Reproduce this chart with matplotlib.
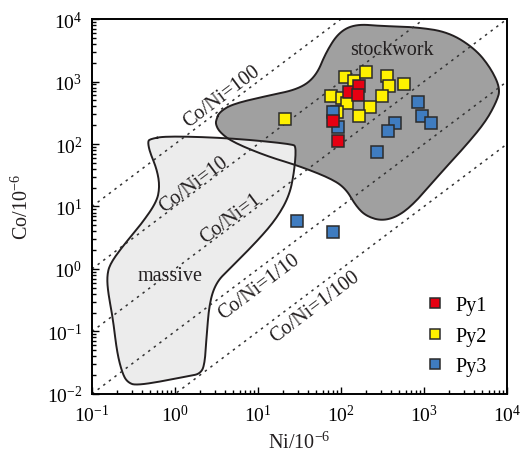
import numpy as np
import matplotlib
matplotlib.use("Agg")
import matplotlib.pyplot as plt
from matplotlib.ticker import FixedLocator, NullFormatter, LogFormatterSciNotation

plt.rcParams['font.family'] = ['Liberation Serif', 'DejaVu Serif']
plt.rcParams['mathtext.fontset'] = 'custom'
plt.rcParams['mathtext.rm'] = 'Liberation Serif'
plt.rcParams['mathtext.default'] = 'regular'

# sample data (ppm)
py1_ni = [125, 164, 161, 81, 93]
py1_co = [671, 857, 608, 236, 113]

py2_ni = [21.3, 112, 143, 198, 360, 377, 570, 75, 104, 119, 313, 223, 164, 90]
py2_co = [251, 1167, 1030, 1403, 1239, 857, 912, 593, 538, 453, 593, 395, 284, 329]

py3_ni = [79, 92, 847, 947, 1213, 453, 370, 273, 29.4, 79]
py3_co = [321, 185, 465, 284, 217, 217, 160, 75, 5.8, 3.87]

# field outlines, log10(Ni), log10(Co)
massive_lx = [-0.304, -0.10, 0.656, 1.412, 1.46, 1.436, 1.376, 1.22, 0.98, 0.656,
              0.5, 0.416, 0.38, 0.356, 0.296, 0.176, -0.46, -0.58, -0.64, -0.70,
              -0.748, -0.808, -0.82, -0.784, -0.628, -0.424, -0.22, -0.184, -0.22,
              -0.304, -0.328]
massive_ly = [2.08, 2.128, 2.096, 2.0, 1.952, 1.552, 1.168, 0.8, 0.432, 0.0,
              -0.208, -0.528, -1.072, -1.552, -1.68, -1.712, -1.872, -1.808, -1.648,
              -1.328, -0.8, -0.368, -0.112, 0.08, 0.368, 0.688, 1.072, 1.328, 1.6,
              1.872, 2.032]

stock_lx = [0.5, 0.536, 0.692, 1.1, 1.496, 1.7, 1.82, 1.976, 2.18, 2.492, 2.9,
            3.296, 3.62, 3.812, 3.92, 3.872, 3.74, 3.5, 3.212, 2.9, 2.696, 2.492,
            2.3, 2.18, 2.06, 1.892, 1.496, 1.1, 0.692, 0.536, 0.488]
stock_ly = [2.4, 2.512, 2.64, 2.768, 2.88, 3.088, 3.472, 3.792, 3.92, 3.888, 3.872,
            3.792, 3.52, 3.2, 2.88, 2.672, 2.352, 1.968, 1.552, 1.072, 0.848, 0.768,
            0.848, 1.008, 1.28, 1.44, 1.648, 1.808, 2.032, 2.192, 2.32]

ratios = [100, 10, 1, 0.1, 0.01]
ratio_labels = ['Co/Ni=100', 'Co/Ni=10', 'Co/Ni=1', 'Co/Ni=1/10', 'Co/Ni=1/100']
label_ni = [3.63, 1.675, 4.66, 10.4, 48.7]
label_co = [586, 22.9, 6.55, 0.535, 0.256]

x_decades = [-1, 0, 1, 2, 3, 4]
y_decades = [-2, -1, 0, 1, 2, 3, 4]

INK = '#231f20'
FS = 14.5


def chaikin(xs, ys, n=3):
    pts = np.column_stack([xs, ys])
    for _ in range(n):
        nxt = np.roll(pts, -1, axis=0)
        q = 0.75 * pts + 0.25 * nxt
        r = 0.25 * pts + 0.75 * nxt
        pts = np.empty((2 * len(q), 2))
        pts[0::2] = q
        pts[1::2] = r
    pts = np.vstack([pts, pts[:1]])
    return 10 ** pts[:, 0], 10 ** pts[:, 1]


def minor_ticks(decades):
    return [m * 10.0 ** d for d in decades[:-1] for m in range(2, 10)]


fig = plt.figure(figsize=(5.2, 4.56), dpi=100)
ax = fig.add_axes([0.177, 0.134, 0.798, 0.822])
ax.set_xscale('log')
ax.set_yscale('log')
ax.set_xlim(1e-1, 1e4)
ax.set_ylim(1e-2, 1e4)

sx, sy = chaikin(stock_lx, stock_ly)
mx, my = chaikin(massive_lx, massive_ly)
ax.fill(sx, sy, color='#a0a0a0', lw=0, zorder=1)
ax.fill(mx, my, color='#ececec', lw=0, zorder=1.5)
ax.plot(sx, sy, color=INK, lw=1.4, zorder=2)
ax.plot(mx, my, color=INK, lw=1.4, zorder=2)

xx = np.array([1e-1, 1e4])
for r in ratios:
    ax.plot(xx, r * xx, color='#333333', lw=1.1, ls=(0, (1.6, 3.0)), zorder=2.5)

# angle of a 1:1 line on screen
p0 = ax.transData.transform((1, 1))
p1 = ax.transData.transform((10, 10))
ang = np.degrees(np.arctan2(p1[1] - p0[1], p1[0] - p0[0]))
for lab, x, y in zip(ratio_labels, label_ni, label_co):
    ax.text(x, y, lab, rotation=ang, rotation_mode='anchor', ha='center', va='center',
            fontsize=FS, color=INK, zorder=3)

ax.text(0.863, 0.80, 'massive', ha='center', va='center', fontsize=FS, color=INK, zorder=3)
ax.text(409, 3228, 'stockwork', ha='center', va='center', fontsize=FS, color=INK, zorder=3)

mk = dict(marker='s', ls='none', ms=8.3, mec='#2b2b2b', mew=1.1)
ax.plot(py2_ni, py2_co, mfc='#fff100', label='Py2', zorder=4, **mk)
ax.plot(py3_ni, py3_co, mfc='#3f7cc0', label='Py3', zorder=5, **mk)
ax.plot(py1_ni, py1_co, mfc='#e60012', label='Py1', zorder=6, **mk)

h, l = ax.get_legend_handles_labels()
order = [2, 0, 1]
ax.legend([h[i] for i in order], [l[i] for i in order], loc='lower right',
          bbox_to_anchor=(0.995, 0.0), frameon=False, fontsize=FS,
          markerscale=0.85, handlelength=1.0, handletextpad=0.5,
          labelspacing=0.55)

ax.xaxis.set_major_locator(FixedLocator([10.0 ** d for d in x_decades]))
ax.yaxis.set_major_locator(FixedLocator([10.0 ** d for d in y_decades]))
ax.xaxis.set_major_formatter(LogFormatterSciNotation())
ax.yaxis.set_major_formatter(LogFormatterSciNotation())
ax.xaxis.set_minor_locator(FixedLocator(minor_ticks(x_decades)))
ax.yaxis.set_minor_locator(FixedLocator(minor_ticks(y_decades)))
ax.xaxis.set_minor_formatter(NullFormatter())
ax.yaxis.set_minor_formatter(NullFormatter())
ax.tick_params(which='both', direction='in', top=False, right=False, width=1.0,
               labelsize=14, colors='black')
ax.tick_params(which='major', length=5, pad=7)
ax.tick_params(which='minor', length=3)
for s in ax.spines.values():
    s.set_linewidth(1.4)

ax.set_xlabel('Ni/10$^{-6}$', fontsize=FS, color=INK, labelpad=5)
ax.set_ylabel('Co/10$^{-6}$', fontsize=FS, color=INK, labelpad=10)

fig.savefig('out.png', dpi=100, facecolor='white')
